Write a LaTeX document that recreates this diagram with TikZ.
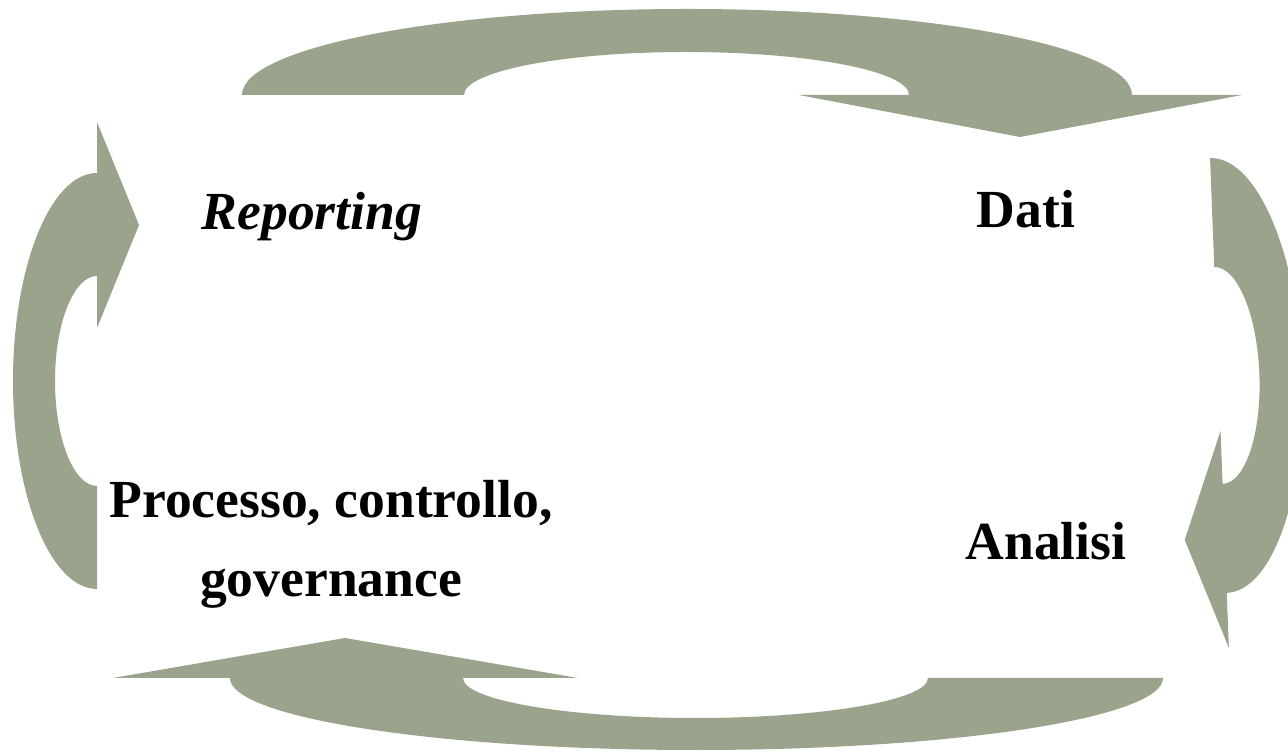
\documentclass[tikz,border=0pt]{standalone}
\usepackage{fontspec}
\setmainfont{Liberation Serif}
\definecolor{cyclegreen}{HTML}{9AA38B}
\begin{document}
\begin{tikzpicture}[x=0.02cm, y=0.02cm,
  lbl/.style={anchor=base, inner sep=0pt, align=center,
    font=\fontsize{30.5}{45}\selectfont\bfseries}]
\useasboundingbox (0,0) rectangle (1288,754);
\clip (0,0) rectangle (1288,754);

% top arrow: Reporting -> Dati
\fill[cyclegreen] (242,659) arc[start angle=180, end angle=0, x radius=445, y radius=86]
  -- (1242,659) -- (1020,617) -- (799,659) -- (909,659)
  arc[start angle=0, end angle=180, x radius=222.5, y radius=43] -- cycle;

% right arrow: Dati -> Analisi
\begin{scope}[rotate around={2.2:(1218.4,378.5)}]
\fill[cyclegreen] (1218.4,596) arc[start angle=90, end angle=-90, x radius=84, y radius=217.5]
  -- (1218.4,106) -- (1178.4,215.5) -- (1218.4,323) -- (1218.4,270)
  arc[start angle=-90, end angle=90, x radius=41, y radius=108.5] -- cycle;
\end{scope}

% bottom arrow: Analisi -> Processo
\fill[cyclegreen] (1163,76) arc[start angle=0, end angle=-180, x radius=466.5, y radius=72]
  -- (113,76) -- (345,116) -- (578,76) -- (463,76)
  arc[start angle=180, end angle=360, x radius=232.5, y radius=40] -- cycle;

% left arrow: Processo -> Reporting
\fill[cyclegreen] (97,581) arc[start angle=90, end angle=270, x radius=84, y radius=208]
  -- (97,268) arc[start angle=270, end angle=90, x radius=42, y radius=105]
  -- (97,426) -- (139,529) -- (97,632) -- cycle;

% stage labels (a two-line label sits on the baseline of its last line)
\node[lbl, font=\fontsize{30.5}{45}\selectfont\bfseries\itshape] (reporting) at (312,524) {Reporting};
\node[lbl] (dati) at (1026,526) {Dati};
\node[lbl] (processo) at (331,157) {Processo, controllo,\\governance};
\node[lbl] (analisi) at (1046,194) {Analisi};
\end{tikzpicture}
\end{document}
